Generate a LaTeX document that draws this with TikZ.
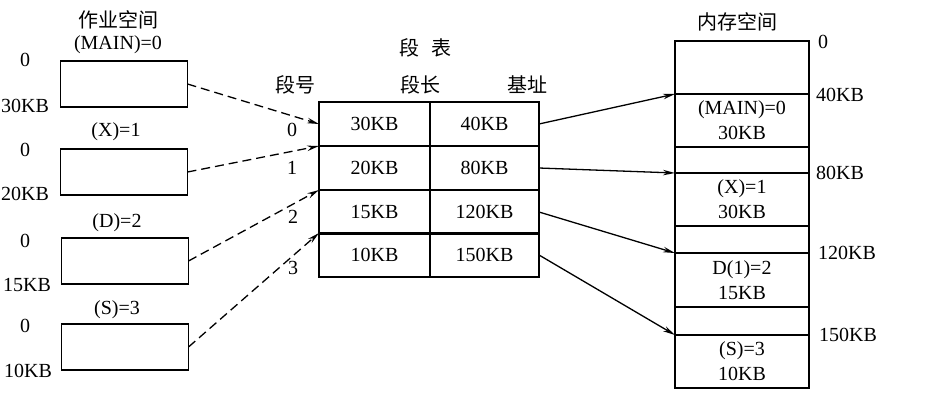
\documentclass[tikz,border=0pt]{standalone}
\usepackage{fontspec}
\setmainfont{Liberation Serif}
\newfontfamily\cjk{Noto Sans CJK SC}
\usetikzlibrary{arrows.meta}
\begin{document}
\begin{tikzpicture}[x=1pt,y=-1pt,
  font=\fontsize{20}{25}\selectfont,
  every node/.style={inner sep=0pt, outer sep=0pt},
  jobbox/.style={draw, line width=1.5pt, minimum width=127pt, minimum height=46pt},
  cellA/.style={draw, line width=1.5pt, minimum width=111pt, minimum height=44pt},
  cellB/.style={draw, line width=1.5pt, minimum width=109pt, minimum height=44pt},
  memcell/.style={draw, line width=1.5pt, minimum width=134pt, align=center},
  dasharrow/.style={line width=1.3pt, dash pattern=on 9pt off 5pt, -{Stealth[length=12pt,width=5.5pt]}},
  solidarrow/.style={line width=1.3pt, -{Stealth[length=12pt,width=5.5pt]}},
  lbl/.style={}
]
\useasboundingbox (0,0) rectangle (935,400);

% job space
\node[lbl] (jt) at (118,20) {\cjk 作业空间};
\node[lbl] (jn0) at (118,45) {(MAIN)=0};
\node[jobbox] (j0) at (124,84) {};
\node[lbl] (jn1) at (116,132) {(X)=1};
\node[jobbox] (j1) at (124,172) {};
\node[lbl] (jn2) at (117,223) {(D)=2};
\node[jobbox] (j2) at (125,261) {};
\node[lbl] (jn3) at (117,310) {(S)=3};
\node[jobbox] (j3) at (125,347) {};
\node (a0) at (25,60) {0};
\node (b0) at (25,106) {30KB};
\node (a1) at (25,150) {0};
\node (b1) at (25,194) {20KB};
\node (a2) at (25,241) {0};
\node (b2) at (27,285) {15KB};
\node (a3) at (25,326) {0};
\node (b3) at (28,371) {10KB};

% segment table
\node (tt) at (425,48) {\cjk 段\hspace{0.6em}表};
\node (h0) at (295,85) {\cjk 段号};
\node (h1) at (420,85) {\cjk 段长};
\node (h2) at (527,85) {\cjk 基址};
\node[cellA] (c00) at (374.5,124) {30KB};
\node[cellB] (c01) at (484.5,124) {40KB};
\node[cellA] (c10) at (374.5,168) {20KB};
\node[cellB] (c11) at (484.5,168) {80KB};
\node[cellA] (c20) at (374.5,212) {15KB};
\node[cellB] (c21) at (484.5,212) {120KB};
\node[cellA] (c30) at (374.5,255) {10KB};
\node[cellB] (c31) at (484.5,255) {150KB};
\node (n0) at (292,130) {0};
\node (n1) at (292,168) {1};
\node (n2) at (293,217) {2};
\node (n3) at (293,268) {3};

% memory space
\node (mt) at (737,22) {\cjk 内存空间};
\node[memcell, minimum height=53pt] (m0) at (742,67.5) {};
\node[memcell, minimum height=53pt] (m1) at (742,120.5) {(MAIN)=0\\30KB};
\node[memcell, minimum height=26pt] (m2) at (742,160) {};
\node[memcell, minimum height=53pt] (m3) at (742,199.5) {(X)=1\\30KB};
\node[memcell, minimum height=27pt] (m4) at (742,239.5) {};
\node[memcell, minimum height=54pt] (m5) at (742,280) {D(1)=2\\15KB};
\node[memcell, minimum height=28pt] (m6) at (742,321) {};
\node[memcell, minimum height=53pt] (m7) at (742,361.5) {(S)=3\\10KB};
\node (k0) at (823,42) {0};
\node (k1) at (840,95) {40KB};
\node (k2) at (840,173) {80KB};
\node (k3) at (847,253) {120KB};
\node (k4) at (848,335) {150KB};

% dashed arrows
\draw[dasharrow] (j0.east) -- (c00.west);
\draw[dasharrow] (j1.east) -- (c10.north west);
\draw[dasharrow] (j2.east) -- (c20.north west);
\draw[dasharrow] (j3.east) -- (c30.north west);

% solid arrows
\draw[solidarrow] (c01.east) -- (m1.north west);
\draw[solidarrow] (c11.east) -- (m3.north west);
\draw[solidarrow] (c21.east) -- (m5.north west);
\draw[solidarrow] (c31.east) -- (m7.north west);
\end{tikzpicture}
\end{document}
